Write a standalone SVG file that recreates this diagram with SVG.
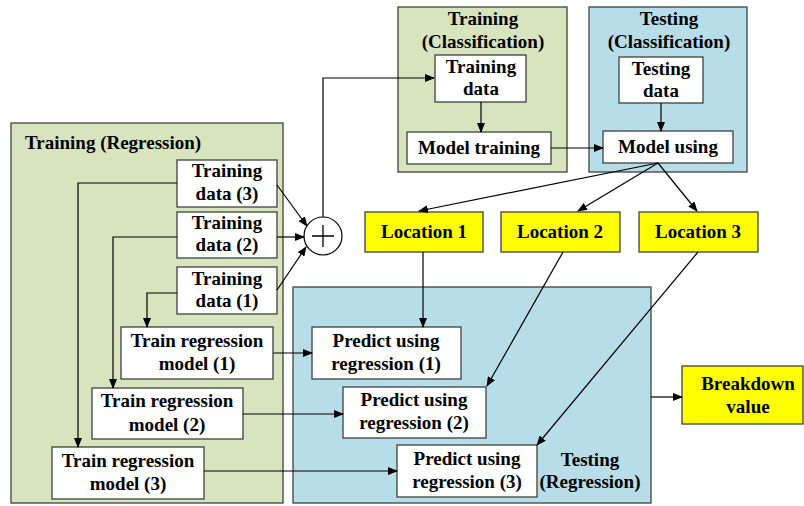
<svg xmlns="http://www.w3.org/2000/svg" width="804" height="506" viewBox="0 0 804 506">
<defs>
<marker id="ah" markerWidth="10" markerHeight="8" refX="9" refY="4" orient="auto" markerUnits="userSpaceOnUse">
<path d="M0,0 L10,4 L0,8 Z" fill="#000"/>
</marker>
<style>
.green{fill:#d7e4bd;stroke:#404040;stroke-width:1.3}
.blue{fill:#b7dde8;stroke:#404040;stroke-width:1.3}
.box{fill:#fff;stroke:#404040;stroke-width:1.3}
.yel{fill:#ffff00;stroke:#404040;stroke-width:1.3}
text{font-family:"Liberation Serif","Times New Roman",serif;font-weight:bold;font-size:19px;fill:#000}
.c{text-anchor:middle}
.ln{fill:none;stroke:#000;stroke-width:1.2}
.arr{fill:none;stroke:#000;stroke-width:1.2;marker-end:url(#ah)}
</style>
</defs>
<rect width="804" height="506" fill="#fff"/>

<g id="training-regression">
<rect class="green" x="11" y="123" width="272" height="380"/>
<text x="25" y="149">Training (Regression)</text>
</g>
<g id="training-classification">
<rect class="green" x="398" y="7" width="169" height="165"/>
<text class="c" x="483" y="25">Training</text>
<text class="c" x="483" y="48">(Classification)</text>
</g>
<g id="testing-classification">
<rect class="blue" x="589" y="7" width="158" height="165"/>
<text class="c" x="669" y="25">Testing</text>
<text class="c" x="669" y="48">(Classification)</text>
</g>
<g id="testing-regression">
<rect class="blue" x="293" y="287" width="358" height="216"/>
<text class="c" x="590" y="466">Testing</text>
<text class="c" x="590" y="488">(Regression)</text>
</g>

<g id="training-data-3">
<rect class="box" x="177" y="160" width="100" height="47"/>
<text class="c" x="227" y="177">Training</text>
<text class="c" x="227" y="200">data (3)</text>
</g>
<g id="training-data-2">
<rect class="box" x="177" y="212" width="100" height="46"/>
<text class="c" x="227" y="229">Training</text>
<text class="c" x="227" y="251">data (2)</text>
</g>
<g id="training-data-1">
<rect class="box" x="177" y="267" width="100" height="47"/>
<text class="c" x="227" y="285">Training</text>
<text class="c" x="227" y="307">data (1)</text>
</g>
<g id="train-model-1">
<rect class="box" x="121" y="327" width="152" height="52"/>
<text class="c" x="197" y="347">Train regression</text>
<text class="c" x="197" y="370">model (1)</text>
</g>
<g id="train-model-2">
<rect class="box" x="92" y="388" width="151" height="51"/>
<text class="c" x="167" y="407">Train regression</text>
<text class="c" x="167" y="431">model (2)</text>
</g>
<g id="train-model-3">
<rect class="box" x="52" y="447" width="152" height="52"/>
<text class="c" x="128" y="467">Train regression</text>
<text class="c" x="128" y="490">model (3)</text>
</g>

<g id="sum">
<circle cx="323" cy="236" r="19" fill="#fff" stroke="#000" stroke-width="1.2"/>
<path d="M312,236 H334 M323,225 V247" stroke="#000" stroke-width="1.3"/>
</g>

<g id="cls-training-data">
<rect class="box" x="435" y="55" width="91" height="47"/>
<text class="c" x="481" y="73">Training</text>
<text class="c" x="481" y="95">data</text>
</g>
<g id="model-training">
<rect class="box" x="407" y="132" width="144" height="32"/>
<text class="c" x="479" y="154">Model training</text>
</g>
<g id="testing-data">
<rect class="box" x="619" y="57" width="84" height="46"/>
<text class="c" x="661" y="75">Testing</text>
<text class="c" x="661" y="97">data</text>
</g>
<g id="model-using">
<rect class="box" x="603" y="131" width="130" height="32"/>
<text class="c" x="668" y="153">Model using</text>
</g>

<g id="location-1">
<rect class="yel" x="365" y="212" width="118" height="40"/>
<text class="c" x="424" y="238">Location 1</text>
</g>
<g id="location-2">
<rect class="yel" x="501" y="212" width="119" height="40"/>
<text class="c" x="560" y="238">Location 2</text>
</g>
<g id="location-3">
<rect class="yel" x="639" y="212" width="119" height="40"/>
<text class="c" x="698" y="238">Location 3</text>
</g>

<g id="predict-1">
<rect class="box" x="312" y="327" width="149" height="52"/>
<text class="c" x="386" y="347">Predict using</text>
<text class="c" x="386" y="370">regression (1)</text>
</g>
<g id="predict-2">
<rect class="box" x="343" y="387" width="143" height="51"/>
<text class="c" x="414" y="406">Predict using</text>
<text class="c" x="414" y="429">regression (2)</text>
</g>
<g id="predict-3">
<rect class="box" x="397" y="445" width="140" height="52"/>
<text class="c" x="467" y="465">Predict using</text>
<text class="c" x="467" y="488">regression (3)</text>
</g>

<g id="breakdown">
<rect class="yel" x="682" y="366" width="121" height="58"/>
<text class="c" x="748" y="390">Breakdown</text>
<text class="c" x="748" y="413">value</text>
</g>

<g id="connectors">
<path class="arr" d="M177,183 H78 V447"/>
<path class="arr" d="M177,237 H113 V388"/>
<path class="arr" d="M177,293 H147 V327"/>
<path class="arr" d="M277,185 L307,226"/>
<path class="arr" d="M277,237 L304,237"/>
<path class="arr" d="M277,290 L306,247"/>
<path class="arr" d="M323,217 V78 H434"/>
<path class="arr" d="M481,102 V132"/>
<path class="arr" d="M551,148 H603"/>
<path class="arr" d="M661,103 V131"/>
<path class="arr" d="M658,163 L419,211"/>
<path class="arr" d="M658,163 L578,211"/>
<path class="arr" d="M658,163 L697,211"/>
<path class="arr" d="M423,252 V327"/>
<path class="arr" d="M563,252 L487,386"/>
<path class="arr" d="M698,252 L537,445"/>
<path class="arr" d="M273,353 H312"/>
<path class="arr" d="M243,414 H343"/>
<path class="arr" d="M204,471 H397"/>
<path class="arr" d="M651,397 H682"/>
</g>
</svg>
